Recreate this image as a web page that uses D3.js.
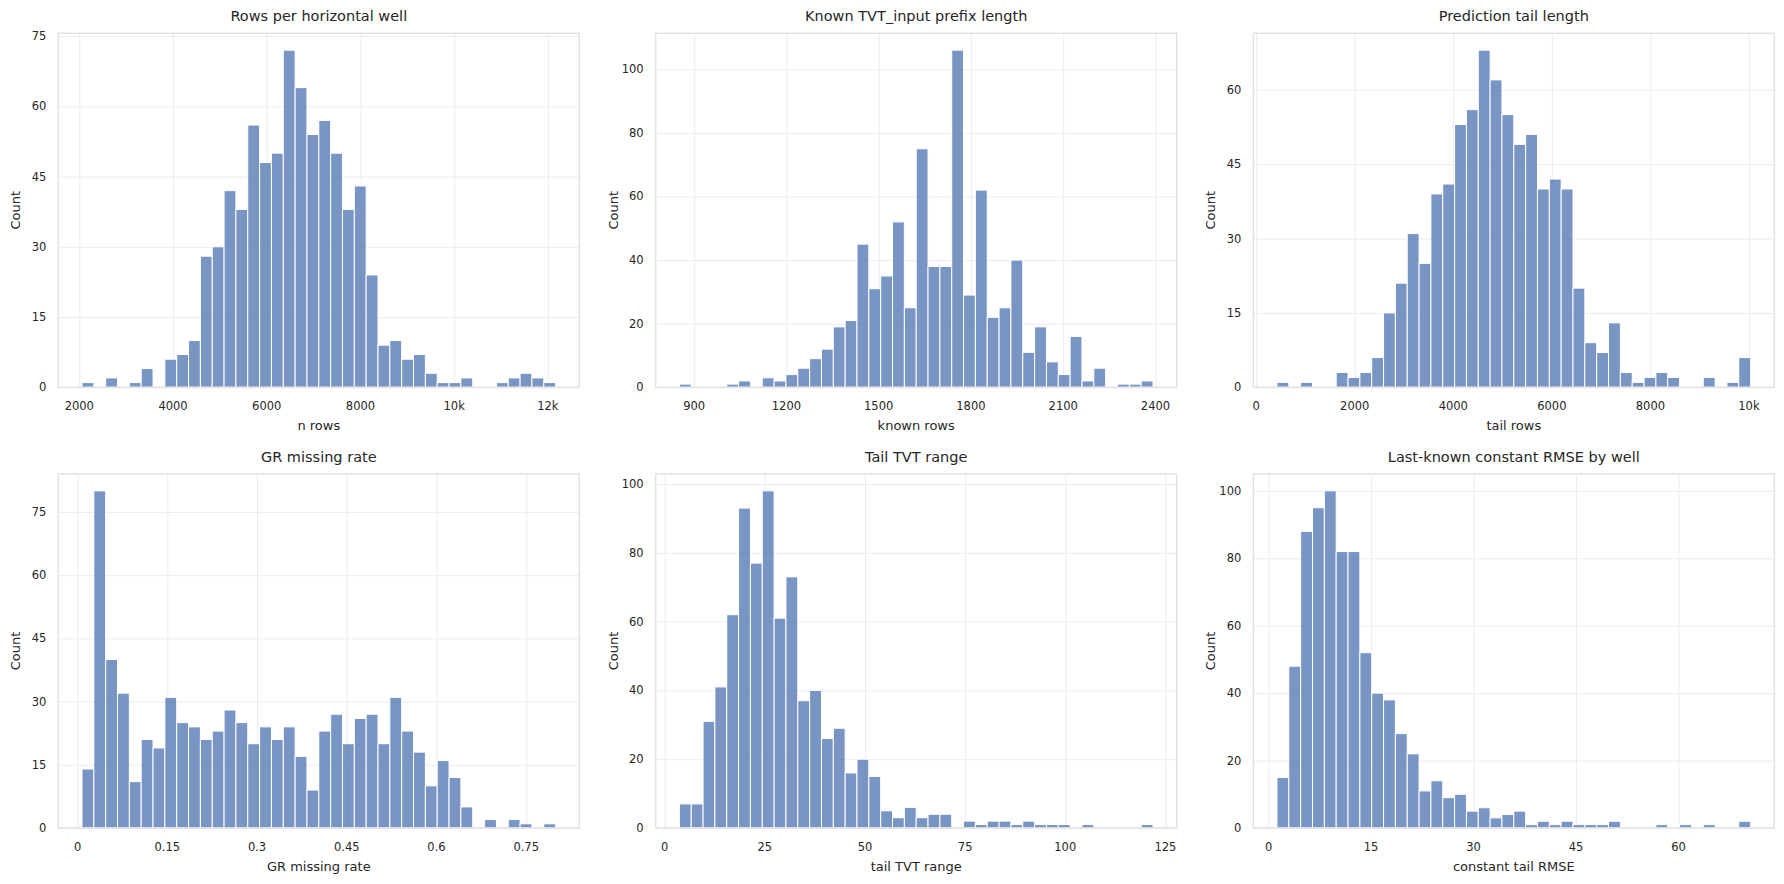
<!DOCTYPE html>
<html>
<head>
<meta charset="utf-8">
<script src="https://cdn.jsdelivr.net/npm/d3@7"></script>
<style>
  body { margin: 0; background: #ffffff; }
  svg { display: block; font-family: "DejaVu Sans", sans-serif; }
</style>
</head>
<body>
<svg id="chart" width="1784" height="884"></svg>
<script>
// counts per bin (40 equal bins each)
let rowsCounts = [1,0,2,0,1,4,0,6,7,10,28,30,42,38,56,48,50,72,64,54,57,50,38,43,24,9,10,6,7,3,1,1,2,0,0,1,2,3,2,1]
let knownCounts = [1,0,0,0,1,2,0,3,2,4,6,9,12,19,21,45,31,35,52,25,75,38,38,106,29,62,22,25,40,11,19,8,4,16,2,6,0,1,1,2]
let tailCounts = [1,0,1,0,0,3,2,3,6,15,21,31,25,39,41,53,56,68,62,55,49,51,40,42,40,20,9,7,13,3,1,2,3,2,0,0,2,0,1,6]
let grCounts = [14,80,40,32,11,21,19,31,25,24,21,23,28,25,20,24,21,24,17,9,23,27,20,26,27,20,31,23,18,10,16,12,5,0,2,0,2,1,0,1]
let tvtCounts = [7,7,31,41,62,93,77,98,61,73,37,40,26,29,16,20,15,5,3,6,3,4,4,0,2,1,2,2,1,2,1,1,1,0,1,0,0,0,0,1]
let rmseCounts = [15,48,88,95,100,82,82,52,40,38,28,22,11,14,9,10,5,6,3,4,5,1,2,1,2,1,1,1,2,0,0,0,1,0,1,0,1,0,0,2]

// data range (first edge, last edge) of each histogram
let rowsRange = [2057, 12165]
let knownRange = [852, 2392]
let tailRange = [422, 10034]
let grRange = [0.0073, 0.7992]
let tvtRange = [3.67, 121.9]
let rmseRange = [1.23, 70.55]

let titles = ['Rows per horizontal well', 'Known TVT_input prefix length', 'Prediction tail length',
    'GR missing rate', 'Tail TVT range', 'Last-known constant RMSE by well']
let xlabels = ['n rows', 'known rows', 'tail rows', 'GR missing rate', 'tail TVT range', 'constant tail RMSE']

let xticks = [
    [2000, 4000, 6000, 8000, 10000, 12000],
    [900, 1200, 1500, 1800, 2100, 2400],
    [0, 2000, 4000, 6000, 8000, 10000],
    [0, 0.15, 0.3, 0.45, 0.6, 0.75],
    [0, 25, 50, 75, 100, 125],
    [0, 15, 30, 45, 60]
]
let yticks = [
    [0, 15, 30, 45, 60, 75],
    [0, 20, 40, 60, 80, 100],
    [0, 15, 30, 45, 60],
    [0, 15, 30, 45, 60, 75],
    [0, 20, 40, 60, 80, 100],
    [0, 20, 40, 60, 80, 100]
]

let allCounts = [rowsCounts, knownCounts, tailCounts, grCounts, tvtCounts, rmseCounts]
let allRanges = [rowsRange, knownRange, tailRange, grRange, tvtRange, rmseRange]

let colLeft = [58.3, 655.7, 1253.3]
let rowTop = [33.3, 474]
let axW = 521
let axH = 354

let barColor = 'rgba(76,114,176,0.75)'
let textColor = '#262626'

let svg = d3.select('#chart')

function fmtTick(v) {
    if (v >= 10000) return (v / 1000) + 'k'
    return String(v)
}

allCounts.forEach((counts, p) => {
    let left = colLeft[p % 3]
    let top = rowTop[Math.floor(p / 3)]
    let [lo, hi] = allRanges[p]
    let pad = (hi - lo) * 0.05
    let n = counts.length
    let w = (hi - lo) / n

    let bins = counts.map((c, i) => ({ x0: lo + i * w, x1: lo + (i + 1) * w, count: c }))

    let xscale = d3.scaleLinear().domain([lo - pad, hi + pad]).range([left, left + axW])
    let yscale = d3.scaleLinear().domain([0, d3.max(counts) * 1.05]).range([top + axH, top])

    let g = svg.append('g').attr('class', 'panel')

    // grid
    g.append('g')
        .attr('transform', `translate(0,${top + axH})`)
        .call(d3.axisBottom(xscale).tickValues(xticks[p]).tickSize(-axH).tickFormat(''))
        .call(s => s.select('.domain').remove())
        .selectAll('line').style('stroke', '#ececec').style('stroke-width', 1)

    g.append('g')
        .attr('transform', `translate(${left},0)`)
        .call(d3.axisLeft(yscale).tickValues(yticks[p]).tickSize(-axW).tickFormat(''))
        .call(s => s.select('.domain').remove())
        .selectAll('line').style('stroke', '#ececec').style('stroke-width', 1)

    // bars
    g.selectAll('rect.bar')
        .data(bins.filter(d => d.count > 0))
        .enter().append('rect')
        .attr('class', 'bar')
        .attr('x', d => xscale(d.x0))
        .attr('width', d => xscale(d.x1) - xscale(d.x0))
        .attr('y', d => yscale(d.count))
        .attr('height', d => yscale(0) - yscale(d.count))
        .style('fill', barColor)
        .style('stroke', '#ffffff')
        .style('stroke-width', 1)

    // frame
    g.append('rect')
        .attr('x', left).attr('y', top)
        .attr('width', axW).attr('height', axH)
        .style('fill', 'none')
        .style('stroke', '#e2e2e2')
        .style('stroke-width', 1.5)

    // tick labels
    g.selectAll('text.xt')
        .data(xticks[p])
        .enter().append('text')
        .attr('x', d => xscale(d))
        .attr('y', top + axH + 23)
        .attr('text-anchor', 'middle')
        .style('font-size', '11.5px')
        .style('fill', textColor)
        .text(d => fmtTick(d))

    g.selectAll('text.yt')
        .data(yticks[p])
        .enter().append('text')
        .attr('x', left - 12)
        .attr('y', d => yscale(d) + 4)
        .attr('text-anchor', 'end')
        .style('font-size', '11.5px')
        .style('fill', textColor)
        .text(d => d)

    // axis labels + title
    g.append('text')
        .attr('x', left + axW / 2)
        .attr('y', top + axH + 43)
        .attr('text-anchor', 'middle')
        .style('font-size', '13px')
        .style('fill', textColor)
        .text(xlabels[p])

    g.append('text')
        .attr('transform', `translate(${left - 38},${top + axH / 2}) rotate(-90)`)
        .attr('text-anchor', 'middle')
        .style('font-size', '13px')
        .style('fill', textColor)
        .text('Count')

    g.append('text')
        .attr('x', left + axW / 2)
        .attr('y', top - 12)
        .attr('text-anchor', 'middle')
        .style('font-size', '14.5px')
        .style('fill', textColor)
        .text(titles[p])
})
</script>
</body>
</html>
